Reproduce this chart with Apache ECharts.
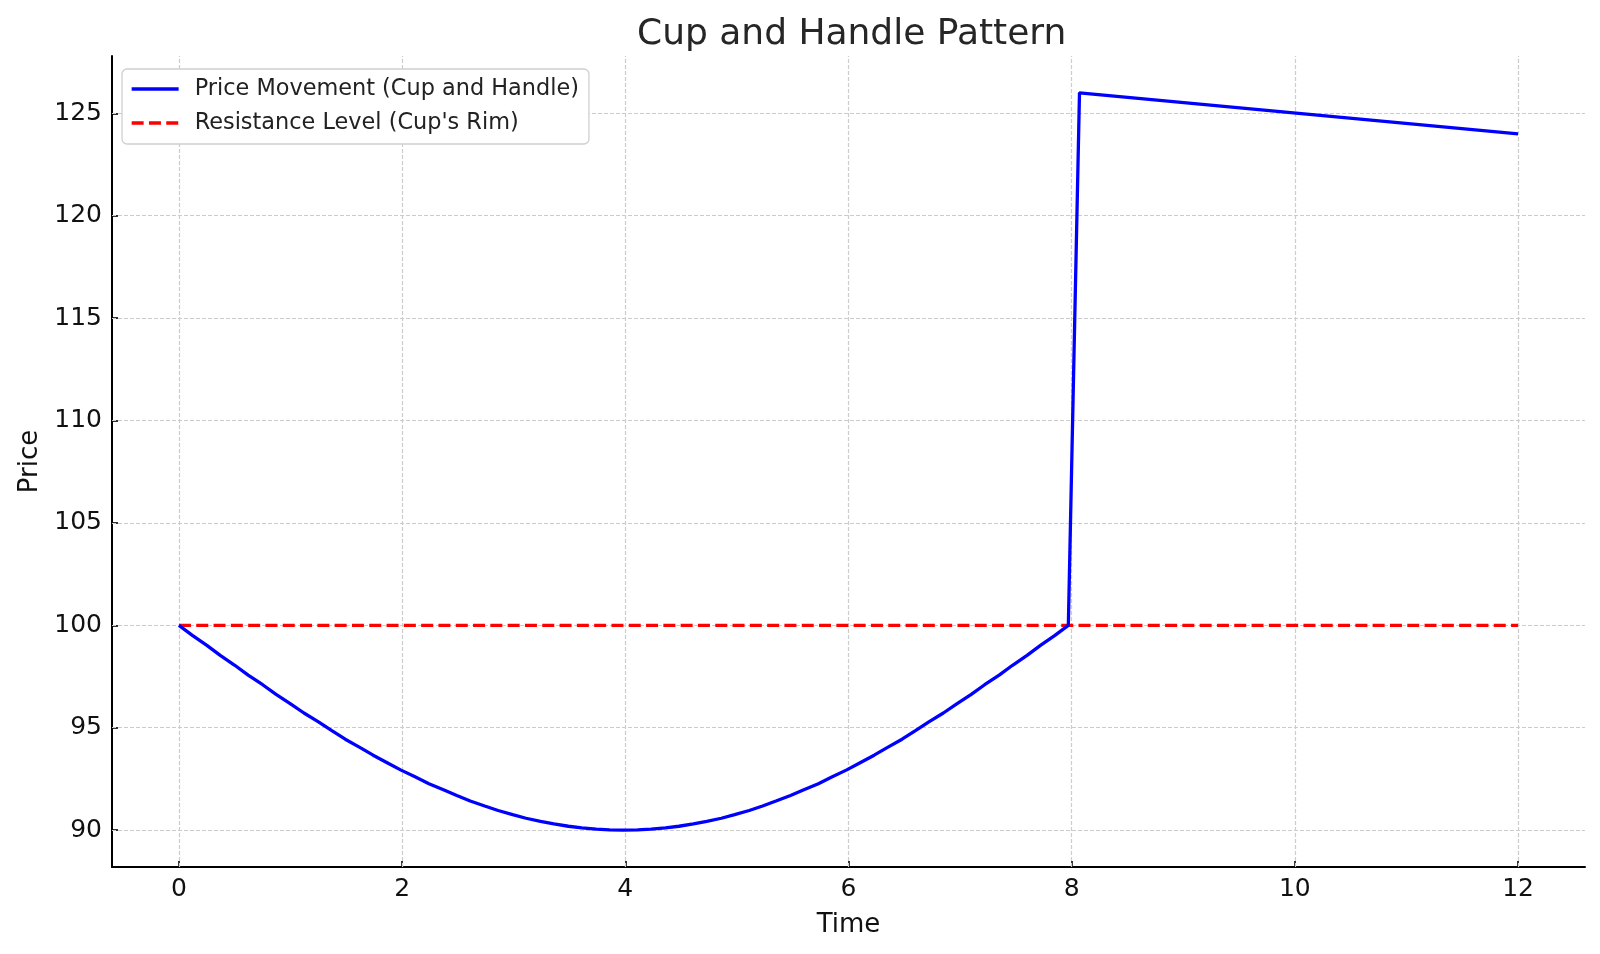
<!DOCTYPE html>
<html>
<head>
<meta charset="utf-8">
<title>Cup and Handle Pattern</title>
<script src="https://cdn.jsdelivr.net/npm/echarts@6/dist/echarts.min.js"></script>
<style>
  html, body { margin: 0; padding: 0; background: #fff; }
  #chart { width: 1600px; height: 954px; }
</style>
</head>
<body>
<div id="chart"></div>
<script>
// cup: rounded bottom from t=0 to ~8
var cupTime = [0, 0.12, 0.25, 0.37, 0.50, 0.62, 0.75, 0.87, 1.00, 1.12, 1.25, 1.37, 1.49, 1.62, 1.74, 1.87,
  1.99, 2.12, 2.24, 2.37, 2.49, 2.61, 2.74, 2.86, 2.99, 3.11, 3.24, 3.36, 3.49, 3.61, 3.74, 3.86,
  3.98, 4.11, 4.23, 4.36, 4.48, 4.61, 4.73, 4.86, 4.98, 5.11, 5.23, 5.35, 5.48, 5.60, 5.73, 5.85,
  5.98, 6.10, 6.23, 6.35, 6.48, 6.60, 6.72, 6.85, 6.97, 7.10, 7.22, 7.35, 7.47, 7.60, 7.72, 7.85, 7.97];
var cupPrice = [100, 99.51, 99.02, 98.53, 98.05, 97.57, 97.10, 96.63, 96.17, 95.72, 95.29, 94.86, 94.44, 94.04, 93.66, 93.28,
  92.93, 92.59, 92.27, 91.97, 91.69, 91.42, 91.18, 90.96, 90.76, 90.58, 90.43, 90.30, 90.19, 90.11, 90.05, 90.01,
  90.00, 90.01, 90.05, 90.11, 90.19, 90.30, 90.43, 90.58, 90.76, 90.96, 91.18, 91.42, 91.69, 91.97, 92.27, 92.59,
  92.93, 93.28, 93.66, 94.04, 94.44, 94.86, 95.29, 95.72, 96.17, 96.63, 97.10, 97.57, 98.05, 98.53, 99.02, 99.51, 100];
// handle: jump then slow drift down
var handleTime = [8.07, 12];
var handlePrice = [126, 124];
// resistance (cup's rim)
var rimTime = [0, 12];
var rimPrice = [100, 100];

var xTicks = [0, 2, 4, 6, 8, 10, 12];
var yTicks = [90, 95, 100, 105, 110, 115, 120, 125];

var priceData = [];
cupTime.forEach(function (t, i) { priceData.push([t, cupPrice[i]]); });
handleTime.forEach(function (t, i) { priceData.push([t, handlePrice[i]]); });
var rimData = rimTime.map(function (t, i) { return [t, rimPrice[i]]; });

var gridLines = xTicks.map(function (v) { return { xAxis: v }; })
  .concat(yTicks.map(function (v) { return { yAxis: v }; }));

var font = 'DejaVu Sans';
var myChart = echarts.init(document.getElementById('chart'));
myChart.setOption({
  animation: false,
  backgroundColor: '#fff',
  textStyle: { fontFamily: font },
  title: {
    text: 'Cup and Handle Pattern',
    left: 632,
    top: 12,
    textStyle: { fontFamily: font, fontSize: 36, fontWeight: 'normal', color: '#262626' }
  },
  legend: {
    data: ['Price Movement (Cup and Handle)', "Resistance Level (Cup's Rim)"],
    orient: 'vertical',
    left: 122,
    top: 69,
    itemWidth: 47,
    itemHeight: 14,
    itemGap: 10,
    padding: [8, 10, 9, 8],
    itemStyle: { opacity: 0 },
    lineStyle: { width: 3.3 },
    backgroundColor: '#fff',
    borderColor: '#d0d0d0',
    borderWidth: 1.3,
    borderRadius: 5,
    textStyle: { fontFamily: font, fontSize: 22.4, color: '#222', lineHeight: 24, padding: [0, 0, 0, 11] }
  },
  grid: { left: 112, right: 15, top: 56, bottom: 87 },
  xAxis: {
    type: 'value',
    min: -0.6,
    max: 12.6,
    name: 'Time',
    nameLocation: 'middle',
    nameGap: 45,
    nameTextStyle: { fontFamily: font, fontSize: 26, color: '#111' },
    axisLine: { onZero: false, lineStyle: { color: '#000', width: 2 } },
    axisTick: { inside: true, length: 6, customValues: xTicks, lineStyle: { color: '#000', width: 1.6 } },
    axisLabel: { customValues: xTicks, margin: 10, fontFamily: font, fontSize: 25, color: '#111' },
    splitLine: { show: false }
  },
  yAxis: {
    type: 'value',
    min: 88.2,
    max: 127.8,
    name: 'Price',
    nameLocation: 'middle',
    nameGap: 66,
    nameTextStyle: { fontFamily: font, fontSize: 26, color: '#111' },
    axisLine: { show: true, onZero: false, lineStyle: { color: '#000', width: 2 } },
    axisTick: { show: true, inside: true, length: 6, customValues: yTicks, lineStyle: { color: '#000', width: 1.6 } },
    axisLabel: { customValues: yTicks, margin: 10, fontFamily: font, fontSize: 25, color: '#111' },
    splitLine: { show: false }
  },
  series: [
    {
      name: 'Price Movement (Cup and Handle)',
      type: 'line',
      data: priceData,
      symbol: 'none',
      z: 3,
      lineStyle: { color: '#0000ff', width: 3.3 },
      itemStyle: { color: '#0000ff' }
    },
    {
      name: "Resistance Level (Cup's Rim)",
      type: 'line',
      data: rimData,
      symbol: 'none',
      z: 2,
      lineStyle: { color: '#ff0000', width: 3.3, type: [12, 5.3] },
      itemStyle: { color: '#ff0000' },
      markLine: {
        silent: true,
        z: 1,
        symbol: ['none', 'none'],
        label: { show: false },
        emphasis: { disabled: true },
        lineStyle: { color: '#cccccc', width: 1.2, type: [4, 2] },
        data: gridLines
      }
    }
  ]
});
</script>
</body>
</html>
